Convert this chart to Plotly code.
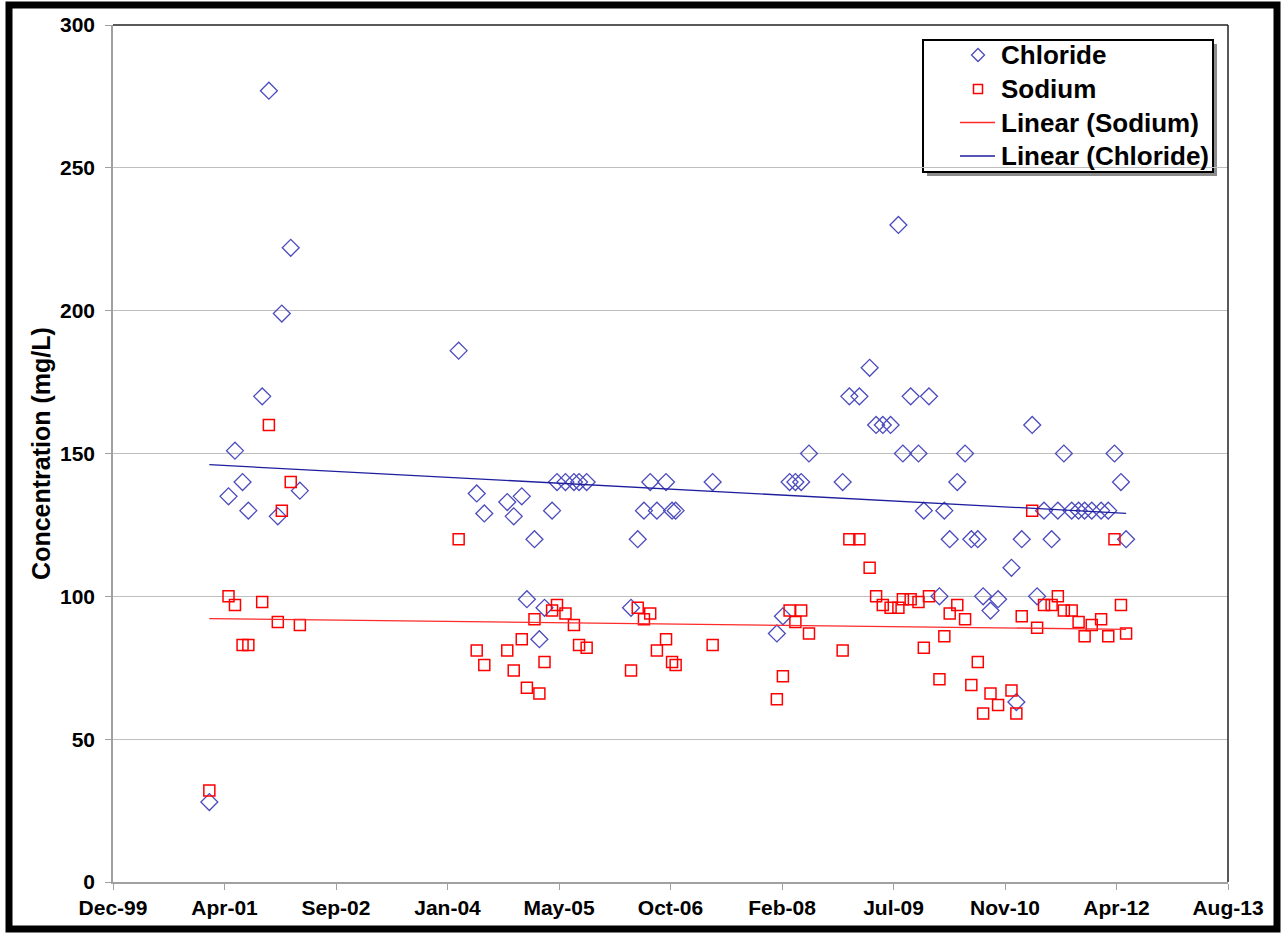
import numpy as np
import pandas as pd
import plotly.graph_objects as go

# Sample dates as spreadsheet serial day numbers (origin 1899-12-30)
sample_serial = [
    36932, 37018, 37047, 37081, 37107, 37169, 37199, 37239, 37257, 37297, 37338,
    38050, 38131, 38165, 38268, 38297, 38333, 38356, 38390, 38412, 38435,
    38469, 38491, 38529, 38567, 38590, 38624,
    38823, 38853, 38881, 38909, 38939, 38980, 39007, 39023, 39189,
    39477, 39504, 39534, 39560, 39586, 39621, 39772, 39802, 39847, 39893,
    39922, 39952, 39987, 40022, 40042, 40077, 40112, 40136, 40159, 40206,
    40228, 40252, 40286, 40321, 40349, 40378, 40402, 40435, 40469, 40529,
    40551, 40575, 40622, 40644, 40675, 40709, 40737, 40764, 40799, 40830,
    40857, 40889, 40931, 40963, 40991, 41020, 41043,
]

# Chloride concentration (mg/L)
chloride = [
    28, 135, 151, 140, 130, 170, 277, 128, 199, 222, 137,
    186, 136, 129, 133, 128, 135, 99, 120, 85, 96,
    130, 140, 140, 140, 140, 140,
    96, 120, 130, 140, 130, 140, 130, 130, 140,
    87, 93, 140, 140, 140, 150, 140, 170, 170, 180,
    160, 160, 160, 230, 150, 170, 150, 130, 170, 100,
    130, 120, 140, 150, 120, 120, 100, 95, 99, 110,
    63, 120, 160, 100, 130, 120, 130, 150, 130, 130,
    130, 130, 130, 130, 150, 140, 120,
]

# Sodium concentration (mg/L)
sodium = [
    32, 100, 97, 83, 83, 98, 160, 91, 130, 140, 90,
    120, 81, 76, 81, 74, 85, 68, 92, 66, 77,
    95, 97, 94, 90, 83, 82,
    74, 96, 92, 94, 81, 85, 77, 76, 83,
    64, 72, 95, 91, 95, 87, 81, 120, 120, 110,
    100, 97, 96, 96, 99, 99, 98, 82, 100, 71,
    86, 94, 97, 92, 69, 77, 59, 66, 62, 67,
    59, 93, 130, 89, 97, 97, 100, 95, 95, 91,
    86, 90, 92, 86, 120, 97, 87,
]

# Axis tick positions (serial days) and y ticks
x_tick_serial = [36500, 37000, 37500, 38000, 38500, 39000, 39500, 40000, 40500, 41000, 41500]
y_ticks = [0, 50, 100, 150, 200, 250, 300]

legend_labels = ["Chloride", "Sodium", "Linear (Sodium)", "Linear (Chloride)"]

ORIGIN = "1899-12-30"


def to_date(serials):
    return pd.to_datetime(np.asarray(serials, dtype=float), unit="D", origin=ORIGIN)


dates = to_date(sample_serial)
x_ticks = to_date(x_tick_serial)
x_labels = [d.strftime("%b-%y") for d in x_ticks]

# Least-squares linear trend for each series, spanning the sampled period
s = np.asarray(sample_serial, dtype=float)
trend_x = np.array([s.min(), s.max()])
cl_fit = np.polyfit(s, np.asarray(chloride, dtype=float), 1)
na_fit = np.polyfit(s, np.asarray(sodium, dtype=float), 1)

BLUE_MK = "#4B4BBE"
BLUE_LN = "#1E1E9E"
RED = "#FF0000"
RED_LN = "#FF2A2A"
FONT = "Liberation Sans, Arial, sans-serif"

cl_marker = dict(symbol="diamond-open", size=13, color=BLUE_MK, line=dict(width=1.3, color=BLUE_MK))
na_marker = dict(symbol="square-open", size=11, color=RED, line=dict(width=1.5, color=RED))
na_line = dict(color=RED_LN, width=1.3)
cl_line = dict(color=BLUE_LN, width=1.3)

fig = go.Figure()
fig.add_trace(go.Scatter(x=dates, y=chloride, mode="markers", name="Chloride", marker=cl_marker))
fig.add_trace(go.Scatter(x=dates, y=sodium, mode="markers", name="Sodium", marker=na_marker))
fig.add_trace(go.Scatter(
    x=to_date(trend_x), y=np.polyval(na_fit, trend_x), mode="lines",
    name="Linear (Sodium)", line=na_line,
))
fig.add_trace(go.Scatter(
    x=to_date(trend_x), y=np.polyval(cl_fit, trend_x), mode="lines",
    name="Linear (Chloride)", line=cl_line,
))

W, H = 1283, 935
ML, MR, MT, MB = 113, 55, 25, 53
PW, PH = W - ML - MR, H - MT - MB


def px_x(px):
    return (px - ML) / PW


def px_y(py):
    return (H - MB - py) / PH


# Legend box geometry (pixels)
LG_X0, LG_X1, LG_Y0, LG_Y1 = 923, 1213, 40, 172
LG_ROWS = [55, 89, 122.5, 156]
LG_SYM_X = 978
LG_LINE = (960, 995)
LG_TEXT_X = 999

# Legend symbols are drawn on a pixel-scaled overlay axis pair
fig.add_trace(go.Scatter(x=[LG_SYM_X], y=[LG_ROWS[0]], mode="markers",
                         marker={**cl_marker, "size": 10},
                         xaxis="x2", yaxis="y2", hoverinfo="skip"))
fig.add_trace(go.Scatter(x=[LG_SYM_X], y=[LG_ROWS[1]], mode="markers",
                         marker={**na_marker, "size": 9},
                         xaxis="x2", yaxis="y2", hoverinfo="skip"))
fig.add_trace(go.Scatter(x=list(LG_LINE), y=[LG_ROWS[2]] * 2, mode="lines", line=na_line,
                         xaxis="x2", yaxis="y2", hoverinfo="skip"))
fig.add_trace(go.Scatter(x=list(LG_LINE), y=[LG_ROWS[3]] * 2, mode="lines", line=cl_line,
                         xaxis="x2", yaxis="y2", hoverinfo="skip"))

shapes = [
    # outer frame
    dict(type="rect", xref="paper", yref="paper",
         x0=px_x(9), x1=px_x(1277), y0=px_y(929), y1=px_y(5),
         line=dict(color="black", width=7), fillcolor="rgba(0,0,0,0)", layer="above"),
    # top and right edges of the plot area
    dict(type="line", xref="paper", yref="paper", x0=0, x1=1, y0=1, y1=1,
         line=dict(color="#222222", width=1.5)),
    dict(type="line", xref="paper", yref="paper", x0=1, x1=1, y0=0, y1=1,
         line=dict(color="#222222", width=1.5)),
    # legend drop shadow and box
    dict(type="rect", xref="paper", yref="paper",
         x0=px_x(LG_X0 + 4), x1=px_x(LG_X1 + 4), y0=px_y(LG_Y1 + 4), y1=px_y(LG_Y0 + 4),
         line=dict(width=0), fillcolor="#8C8C8C", layer="between"),
    dict(type="rect", xref="paper", yref="paper",
         x0=px_x(LG_X0), x1=px_x(LG_X1), y0=px_y(LG_Y1), y1=px_y(LG_Y0),
         line=dict(width=2, color="black"), fillcolor="white", layer="between"),
]

annotations = [
    dict(xref="paper", yref="paper", x=px_x(LG_TEXT_X), y=px_y(row),
         xanchor="left", yanchor="middle", text=label, showarrow=False,
         font=dict(family=FONT, size=26, color="black", weight="bold"))
    for label, row in zip(legend_labels, LG_ROWS)
]

fig.update_layout(
    width=W, height=H,
    margin=dict(l=ML, r=MR, t=MT, b=MB, pad=0),
    paper_bgcolor="white", plot_bgcolor="white",
    font=dict(family=FONT, color="black"),
    showlegend=False,
    shapes=shapes,
    annotations=annotations,
    xaxis=dict(
        type="date",
        range=[x_ticks[0], x_ticks[-1]],
        tickvals=x_ticks, ticktext=x_labels,
        showgrid=False, zeroline=False,
        showline=True, linecolor="#A0A0A0", linewidth=1.5,
        ticks="outside", ticklen=6, tickcolor="#A0A0A0",
        tickfont=dict(family=FONT, size=21, color="black", weight="bold"),
    ),
    yaxis=dict(
        range=[0, 300], tickvals=y_ticks,
        showgrid=True, gridcolor="#BEBEBE", gridwidth=1,
        zeroline=False,
        showline=True, linecolor="#A0A0A0", linewidth=1.5,
        ticks="outside", ticklen=6, tickcolor="#A0A0A0",
        ticklabelstandoff=6,
        tickfont=dict(family=FONT, size=21, color="black", weight="bold"),
        title=dict(text="Concentration (mg/L)", standoff=2,
                   font=dict(family=FONT, size=25, color="black", weight="bold")),
    ),
    xaxis2=dict(overlaying="x", range=[ML, W - MR], visible=False, fixedrange=True),
    yaxis2=dict(overlaying="y", range=[H - MB, MT], visible=False, fixedrange=True),
)

fig.write_html("out.html")
